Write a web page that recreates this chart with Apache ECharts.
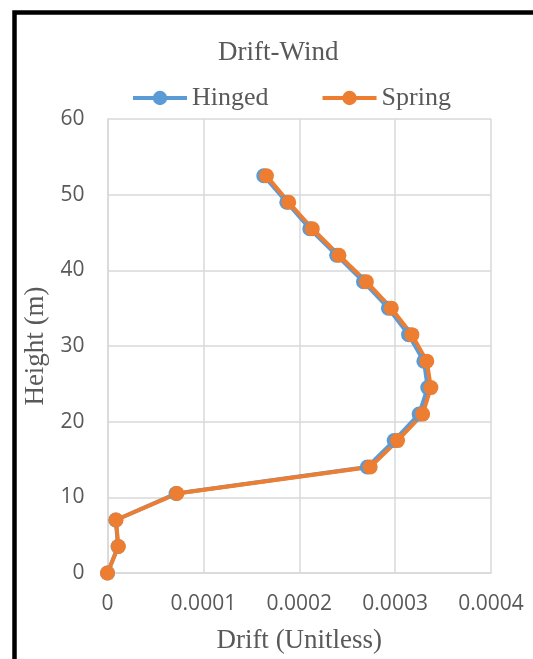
<!DOCTYPE html>
<html>
<head>
<meta charset="utf-8">
<script src="https://cdn.jsdelivr.net/npm/echarts@6/dist/echarts.min.js"></script>
<style>
  html, body { margin: 0; padding: 0; background: #ffffff; }
  #chart { width: 533px; height: 659px; }
</style>
</head>
<body>
<div id="chart"></div>
<script>
// Storey heights (m)
const heights = [0, 3.5, 7, 10.5, 14, 17.5, 21, 24.5, 28, 31.5, 35, 38.5, 42, 45.5, 49, 52.5];
// Inter-storey drift under wind load, hinged base
const hingedDrift = [0, 0.0000110, 0.0000086, 0.0000715, 0.000271, 0.000299, 0.000325, 0.000334,
                     0.000330, 0.000314, 0.000293, 0.000267, 0.000239, 0.000211, 0.000187, 0.000163];
// Inter-storey drift under wind load, spring base
const springDrift = [0, 0.0000113, 0.0000089, 0.0000724, 0.000274, 0.0003025, 0.0003287, 0.0003373,
                     0.000333, 0.0003175, 0.000296, 0.000270, 0.0002414, 0.0002136, 0.000189, 0.0001658];
const xTicks = ['0', '0.0001', '0.0002', '0.0003', '0.0004'];
const seriesNames = ['Hinged', 'Spring'];
const seriesColors = ['#5b9bd5', '#ed7d31'];

const serif = '"Liberation Serif", "Times New Roman", serif';
const sans = '"Open Sans", "Liberation Sans", sans-serif';
const textColor = '#595959';
const gridColor = '#d9d9d9';

const pairs = (xs) => xs.map((x, i) => [x, heights[i]]);

const chart = echarts.init(document.getElementById('chart'), null, { renderer: 'canvas' });
chart.setOption({
  animation: false,
  backgroundColor: '#ffffff',
  graphic: [{
    type: 'rect',
    shape: { x: 14.5, y: 12.5, width: 600, height: 700 },
    style: { fill: 'none', stroke: '#000000', lineWidth: 4.5 },
    silent: true
  }],
  title: {
    text: 'Drift-Wind',
    left: 218,
    top: 39,
    padding: 0,
    textStyle: { fontFamily: serif, fontSize: 27, fontWeight: 'normal', color: textColor }
  },
  legend: {
    left: 131,
    top: 85,
    padding: 0,
    itemWidth: 54,
    itemHeight: 18,
    itemGap: 52,
    textStyle: { fontFamily: serif, fontSize: 26, color: textColor },
    data: seriesNames,
    lineStyle: { width: 4 }
  },
  grid: { left: 107.5, right: 42, top: 119, bottom: 86 },
  xAxis: {
    type: 'value',
    min: 0,
    max: 0.0004,
    interval: 0.0001,
    name: 'Drift (Unitless)',
    nameLocation: 'middle',
    nameGap: 54,
    nameTextStyle: { fontFamily: serif, fontSize: 27, color: textColor },
    axisLine: { show: true, lineStyle: { color: gridColor, width: 1.5 } },
    axisTick: { show: false },
    axisLabel: {
      margin: 21,
      fontFamily: sans,
      fontSize: 21,
      color: textColor,
      formatter: (v) => xTicks[Math.round(v / 0.0001)]
    },
    splitLine: { show: true, lineStyle: { color: gridColor, width: 1.5 } }
  },
  yAxis: {
    type: 'value',
    min: 0,
    max: 60,
    interval: 10,
    name: 'Height (m)',
    nameLocation: 'middle',
    nameRotate: 90,
    nameGap: 51,
    nameTextStyle: { fontFamily: serif, fontSize: 27, color: textColor },
    axisLine: { show: true, lineStyle: { color: gridColor, width: 1.5 } },
    axisTick: { show: false },
    axisLabel: { margin: 23, fontFamily: sans, fontSize: 21, color: textColor },
    splitLine: { show: true, lineStyle: { color: gridColor, width: 1.5 } }
  },
  series: [
    {
      name: seriesNames[0],
      type: 'line',
      data: pairs(hingedDrift),
      symbol: 'circle',
      symbolSize: 15,
      lineStyle: { color: seriesColors[0], width: 4 },
      itemStyle: { color: seriesColors[0] }
    },
    {
      name: seriesNames[1],
      type: 'line',
      data: pairs(springDrift),
      symbol: 'circle',
      symbolSize: 15,
      lineStyle: { color: seriesColors[1], width: 4 },
      itemStyle: { color: seriesColors[1] }
    }
  ]
});
</script>
</body>
</html>
